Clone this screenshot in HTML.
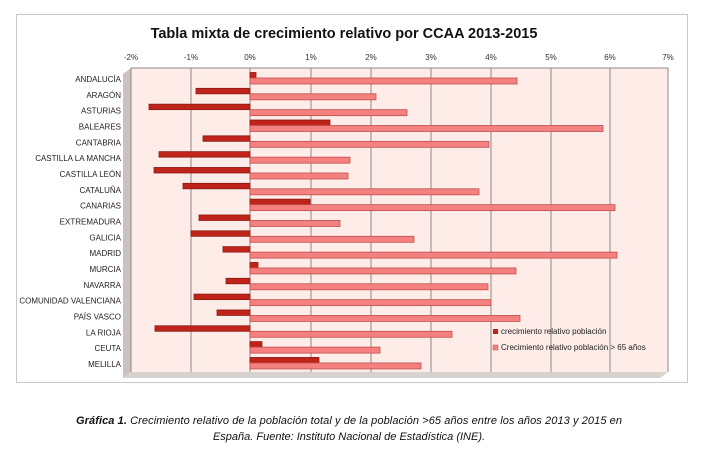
<!DOCTYPE html>
<html><head><meta charset="utf-8"><style>
body{margin:0;background:#fff;width:708px;height:457px;overflow:hidden;font-family:"Liberation Sans",sans-serif}
</style></head><body>
<svg width="708" height="457" xmlns="http://www.w3.org/2000/svg" font-family="Liberation Sans, sans-serif">
<rect x="16.5" y="14.5" width="671" height="368" fill="#fff" stroke="#c8c8c8"/>
<text x="344" y="38" font-size="14.5" font-weight="bold" text-anchor="middle" fill="#111">Tabla mixta de crecimiento relativo por CCAA 2013-2015</text>
<polygon points="123,74 131,68 131,372 123,378" fill="#c9c2bf"/>
<rect x="131" y="68" width="537" height="304" fill="#fdece7"/>
<polygon points="123,378 131,372 668,372 660,378" fill="#d8d2cf"/>
<g stroke="#8a8a8a" stroke-width="1">
<line x1="131" y1="68" x2="131" y2="372"/>
<line x1="191" y1="68" x2="191" y2="372"/>
<line x1="250" y1="68" x2="250" y2="372"/>
<line x1="311" y1="68" x2="311" y2="372"/>
<line x1="371" y1="68" x2="371" y2="372"/>
<line x1="431" y1="68" x2="431" y2="372"/>
<line x1="491" y1="68" x2="491" y2="372"/>
<line x1="551" y1="68" x2="551" y2="372"/>
<line x1="610" y1="68" x2="610" y2="372"/>
<line x1="668" y1="68" x2="668" y2="372"/>
<line x1="131" y1="68" x2="668" y2="68"/>
</g>
<g font-size="8" fill="#333" text-anchor="middle">
<text x="131" y="60">-2%</text><text x="191" y="60">-1%</text><text x="250" y="60">0%</text><text x="311" y="60">1%</text><text x="371" y="60">2%</text><text x="431" y="60">3%</text><text x="491" y="60">4%</text><text x="551" y="60">5%</text><text x="610" y="60">6%</text><text x="668" y="60">7%</text>
</g>
<g id="bars"></g>
<g font-size="8" fill="#222" text-anchor="end" id="labels"></g>
<rect x="493" y="329" width="5" height="5" fill="#c0231a"/>
<text x="501" y="334" font-size="8" fill="#222">crecimiento relativo población</text>
<rect x="493" y="345" width="5" height="5" fill="#f58080" stroke="#c0504d" stroke-width="0.5"/>
<text x="501" y="350" font-size="8" fill="#222">Crecimiento relativo población &gt; 65 años</text>
<text x="349" y="424" font-size="11" font-style="italic" text-anchor="middle" fill="#111" textLength="546"><tspan font-weight="bold">Gráfica 1.</tspan> Crecimiento relativo de la población total y de la población &gt;65 años entre los años 2013 y 2015 en</text>
<text x="349" y="440" font-size="11" font-style="italic" text-anchor="middle" fill="#111">España. Fuente: Instituto Nacional de Estadística (INE).</text>
</svg>
<script>
var names=["ANDALUCÍA","ARAGÓN","ASTURIAS","BALEARES","CANTABRIA","CASTILLA LA MANCHA","CASTILLA LEÓN","CATALUÑA","CANARIAS","EXTREMADURA","GALICIA","MADRID","MURCIA","NAVARRA","COMUNIDAD VALENCIANA","PAÍS VASCO","LA RIOJA","CEUTA","MELILLA"];
var dark=[256,196,149,330,203,159,154,183,310,199,191,223,258,226,194,217,155,262,319];
var light=[517,376,407,603,489,350,348,479,615,340,414,617,516,488,491,520,452,380,421];
var ns="http://www.w3.org/2000/svg",b=document.getElementById("bars"),l=document.getElementById("labels");
function r(x,y,w,h,f,s){var e=document.createElementNS(ns,"rect");e.setAttribute("x",x);e.setAttribute("y",y);e.setAttribute("width",w);e.setAttribute("height",h);e.setAttribute("fill",f);e.setAttribute("stroke",s);e.setAttribute("stroke-width","0.8");b.appendChild(e);}
for(var i=0;i<19;i++){var c=79+i*15.83;
var d=dark[i];r(Math.min(d,250),c-6.5,Math.abs(d-250),5.5,"#c0231a","#8b1a12");
r(250,c-1,light[i]-250,6,"#f58080","#c0504d");
var t=document.createElementNS(ns,"text");t.setAttribute("x",121);t.setAttribute("y",c+3);t.textContent=names[i];l.appendChild(t);}
</script>
</body></html>
